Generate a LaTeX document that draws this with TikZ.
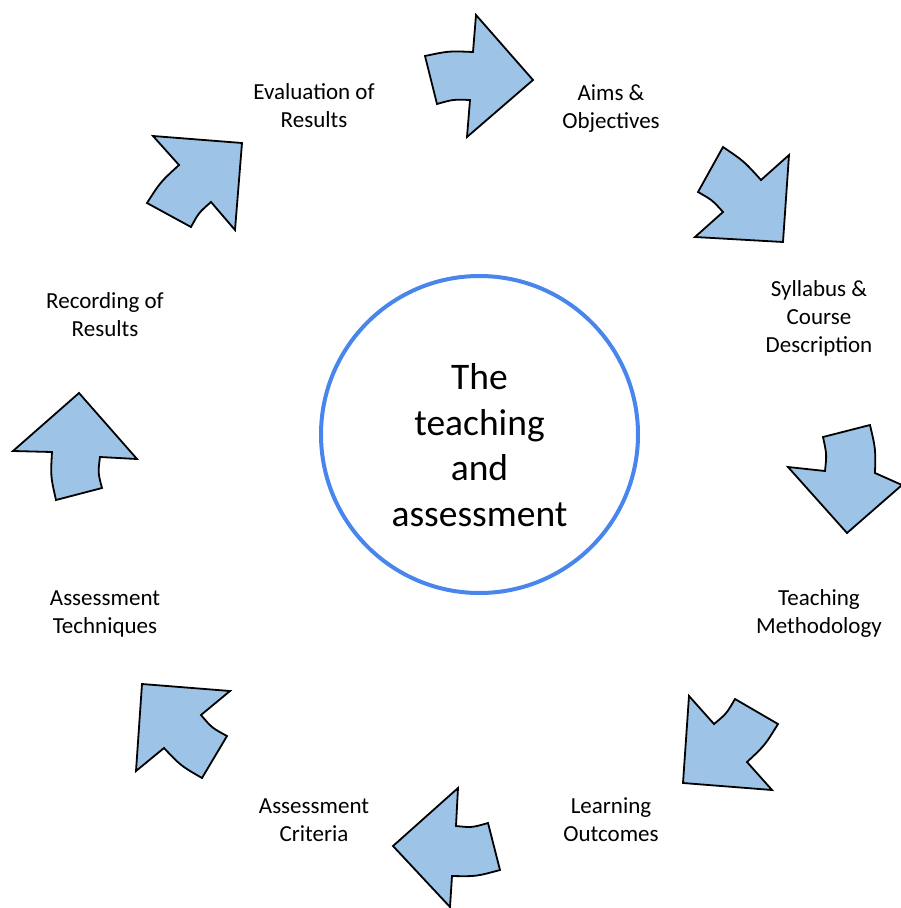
\documentclass[tikz,border=0pt]{standalone}
\usepackage{fontspec}
\setmainfont{Carlito}
\usetikzlibrary{calc}
\definecolor{arrowfill}{RGB}{157,195,230}
\definecolor{ringblue}{RGB}{72,133,237}
\begin{document}
\begin{tikzpicture}[x=1pt,y=-1pt,
  blockarrow/.style={draw=black, fill=arrowfill, line width=1.8pt, line join=miter},
  bulge/.style={to path={.. controls ($(O)!1.008!($(\tikztostart)!0.5!(\tikztotarget)$)$) .. (\tikztotarget)}},
  lbl/.style={align=center, font=\fontsize{23}{28}\selectfont, inner sep=0pt},
  centertext/.style={align=center, font=\fontsize{37.5}{45.5}\selectfont, inner sep=0pt},
  ring/.style={circle, draw=ringblue, line width=4pt, minimum size=317pt, inner sep=0pt}]
\useasboundingbox (0,0) rectangle (901,908);
\coordinate (O) at (479.5,434.5);

% central circle and text
\node[ring] (ringnode) at (O) {};
\node[centertext] (core) at (479.5,445) {The\\teaching\\and\\assessment};

% labels
\node[lbl] (aims) at (611,109) {Aims \&\\Objectives};
\node[lbl] (syll) at (819,318) {Syllabus \&\\Course\\Description};
\node[lbl] (teach) at (819,613) {Teaching\\Methodology};
\node[lbl] (learn) at (611,819.5) {Learning\\Outcomes};
\node[lbl] (crit) at (314,820) {Assessment\\Criteria};
\node[lbl] (tech) at (105,614) {Assessment\\Techniques};
\node[lbl] (rec) at (105,315) {Recording of\\Results};
\node[lbl] (eval) at (314,106) {Evaluation of\\Results};

% block arrows
\draw[blockarrow] (425,56) to[bulge] (473,52) -- (476,15) -- (533,80) -- (467,137) -- (470,100) to[bulge] (437,104) -- cycle;
\draw[blockarrow] (723,147) to[bulge] (761,180) -- (789,155) -- (783,242) -- (695,237) -- (723,212) to[bulge] (698,192) -- cycle;
\draw[blockarrow] (823,437) -- (870,425) to[bulge] (875,473) -- (902,485) -- (847,533) -- (788,467) -- (825,471) to[bulge] (823,437) -- cycle;
\draw[blockarrow] (689,696) -- (714,724) to[bulge] (735,699) -- (778,724) to[bulge] (747,762) -- (772,790) -- (683,783) -- cycle;
\draw[blockarrow] (458,788) -- (456,826) to[bulge] (488,823) -- (500,870) to[bulge] (452,876) -- (450,907) -- (393,846) -- cycle;
\draw[blockarrow] (142,684) -- (230,691) -- (201,715) to[bulge] (227,736) -- (202,778) to[bulge] (164,748) -- (136,771) -- cycle;
\draw[blockarrow] (79,393) -- (137,459) -- (100,457) to[bulge] (102,488) -- (56,500) to[bulge] (52,452) -- (13,451) -- cycle;
\draw[blockarrow] (153,136) -- (242,143) -- (235,230) -- (211,202) to[bulge] (191,227) -- (147,203) to[bulge] (179,165) -- cycle;
\end{tikzpicture}
\end{document}
